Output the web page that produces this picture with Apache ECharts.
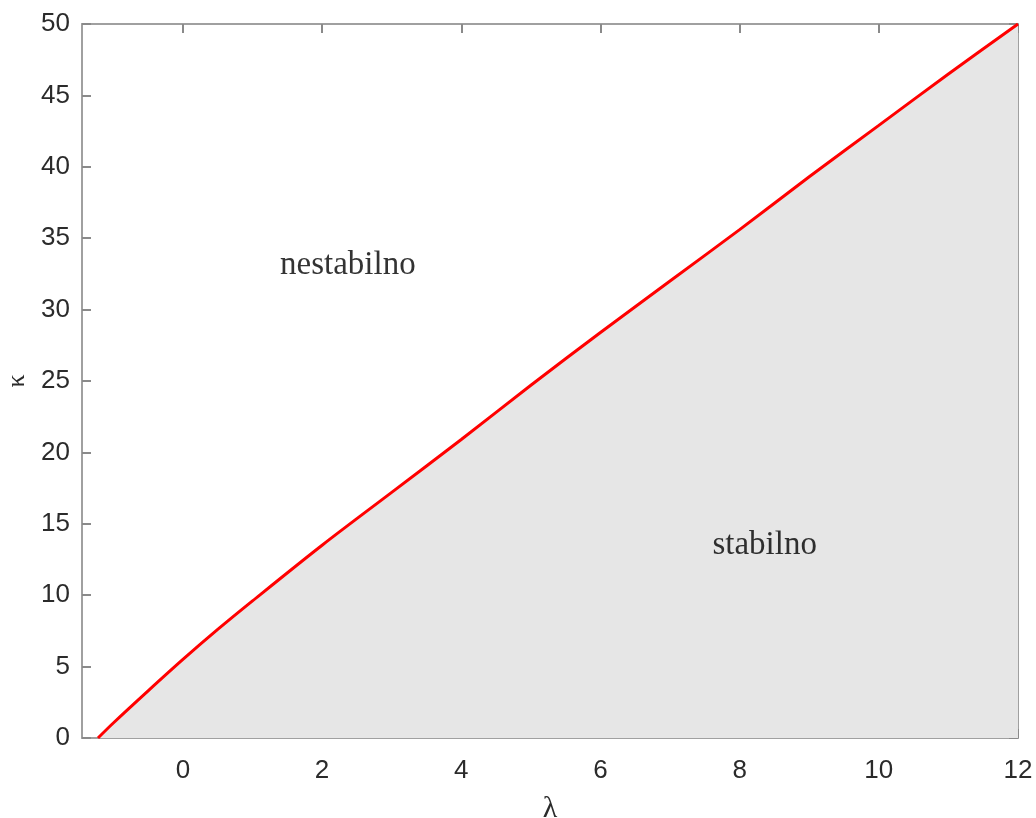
<!DOCTYPE html>
<html>
<head>
<meta charset="utf-8">
<script src="https://cdn.jsdelivr.net/npm/echarts@6/dist/echarts.min.js"></script>
<style>html,body{margin:0;padding:0;background:#fff;}#c{width:1036px;height:818px;}</style>
</head>
<body>
<div id="c"></div>
<script>
const lambdaVals = [-1.22, -1, -0.5, 0, 0.5, 1, 2, 3, 4, 5, 6, 7, 8, 9, 10, 11, 12];
const kappaVals = [0, 1.05, 3.3, 5.5, 7.6, 9.6, 13.5, 17.2, 20.9, 24.7, 28.4, 32.0, 35.6, 39.3, 42.9, 46.5, 50];
const xTicks = [0, 2, 4, 6, 8, 10, 12];
const regionLabels = [
  { name: 'nestabilno', value: [2.37, 33.1] },
  { name: 'stabilno', value: [8.36, 13.5] }
];

const chart = echarts.init(document.getElementById('c'));
const axisColor = '#a0a0a0';
const labelColor = '#2b2b2b';
const font = '"Liberation Sans", Arial, sans-serif';

function xAxisCfg(pos, show) {
  return {
    type: 'value', position: pos, min: -1.45, max: 12,
    axisLine: { show: true, onZero: false, lineStyle: { color: axisColor, width: 2 } },
    axisTick: { show: true, inside: true, length: 9, customValues: xTicks, lineStyle: { color: '#8a8a8a', width: 2 } },
    axisLabel: { show: show, customValues: xTicks, color: labelColor, fontSize: 26, fontFamily: font, margin: 20 },
    splitLine: { show: false }
  };
}
function yAxisCfg(pos, show) {
  return {
    type: 'value', position: pos, min: 0, max: 50, interval: 5,
    axisLine: { show: true, onZero: false, lineStyle: { color: axisColor, width: 2 } },
    axisTick: { show: true, inside: true, length: 9, lineStyle: { color: '#8a8a8a', width: 2 } },
    axisLabel: { show: show, color: labelColor, fontSize: 26, fontFamily: font, margin: 12 },
    splitLine: { show: false }
  };
}

const xa = xAxisCfg('bottom', true);
xa.name = 'λ';
xa.nameLocation = 'middle';
xa.nameGap = 56;
xa.nameTextStyle = { fontSize: 30, color: labelColor, fontFamily: '"Liberation Serif", serif' };
const ya = yAxisCfg('left', true);
ya.name = 'κ';
ya.nameLocation = 'middle';
ya.nameGap = 50;
ya.nameTextStyle = { fontSize: 26, color: labelColor, fontFamily: '"Liberation Serif", serif' };

chart.setOption({
  animation: false,
  grid: { left: 82, right: 18, top: 24, bottom: 80, containLabel: false, outerBoundsMode: 'none' },
  xAxis: [xa, xAxisCfg('top', false)],
  yAxis: [ya, yAxisCfg('right', false)],
  series: [
    {
      type: 'line',
      data: lambdaVals.map((l, i) => [l, kappaVals[i]]),
      smooth: 0.3,
      showSymbol: false,
      lineStyle: { color: '#ff0000', width: 3 },
      areaStyle: { color: '#e6e6e6', opacity: 1, origin: 'start' },
      z: 2
    },
    {
      type: 'scatter',
      data: regionLabels,
      symbolSize: 0,
      label: {
        show: true, position: 'inside', formatter: p => p.name,
        fontSize: 33, color: '#000', fontFamily: '"Liberation Serif", "Times New Roman", serif'
      },
      z: 3
    }
  ]
});
</script>
</body>
</html>
